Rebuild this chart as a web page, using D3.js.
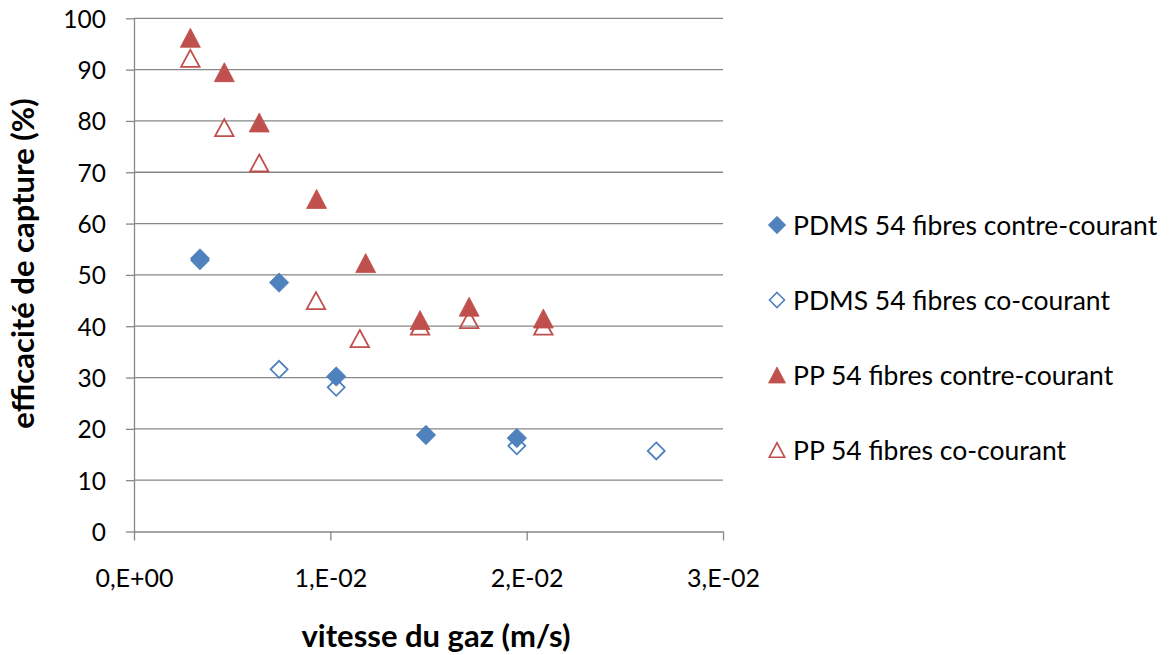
<!DOCTYPE html>
<html><head><meta charset="utf-8">
<script src="https://cdn.jsdelivr.net/npm/d3@7"></script>
<style>body{margin:0;background:#fff}svg{display:block}</style>
</head><body>
<svg id="c" width="1172" height="655"></svg>
<script>
const seriesNames = ["PDMS 54 fibres contre-courant","PDMS 54 fibres co-courant","PP 54 fibres contre-courant","PP 54 fibres co-courant"];
const pdmsContreX = [0.00336,0.00739,0.0103,0.01487,0.0195];
const pdmsContreY = [53.2,48.5,30.2,18.8,18.2];
const pdmsCoX = [0.00336,0.00739,0.0103,0.0195,0.0266];
const pdmsCoY = [52.8,31.6,28.1,16.7,15.7];
const ppContreX = [0.00287,0.0046,0.00638,0.0093,0.0118,0.01457,0.01707,0.02085];
const ppContreY = [96.2,89.5,79.7,64.8,52.3,41.2,43.8,41.5];
const ppCoX = [0.00287,0.0046,0.00638,0.00927,0.0115,0.01457,0.01707,0.02085];
const ppCoY = [92.2,78.7,71.8,45.0,37.6,40.0,41.3,40.0];
const xTicks = [0,0.01,0.02,0.03];
const xTickLabels = ["0,E+00","1,E-02","2,E-02","3,E-02"];
const yTicks = [0,10,20,30,40,50,60,70,80,90,100];

const FONT = "Lato, 'Open Sans', sans-serif";
const BLUE = "#4F81BD", RED = "#C0504D", GRID = "#878787";
const svg = d3.select("#c");
const x = d3.scaleLinear().domain([0,0.03]).range([134,723]);
const y = d3.scaleLinear().domain([0,100]).range([531.5,18.3]);

// gridlines
svg.append("g").selectAll("line").data(yTicks.filter(d=>d>0)).join("line")
  .attr("x1",x(0)).attr("x2",x(0.03)).attr("y1",d=>y(d)).attr("y2",d=>y(d))
  .attr("stroke",GRID).attr("stroke-width",1.3);

// y axis
const yAxis = d3.axisLeft(y).tickValues(yTicks).tickSize(8).tickPadding(20).tickSizeOuter(0);
const gy = svg.append("g").attr("transform",`translate(${x(0)},0)`).call(yAxis);
gy.select(".domain").attr("stroke",GRID).attr("stroke-width",1.3);
gy.selectAll(".tick line").attr("stroke",GRID).attr("stroke-width",1.3);
gy.selectAll(".tick text").attr("font-family",FONT).attr("font-size",24.5).attr("fill","#000").attr("dy","0.36em");

// x axis
const xAxis = d3.axisBottom(x).tickValues(xTicks).tickFormat((d,i)=>xTickLabels[i]).tickSize(9).tickSizeOuter(0);
const gx = svg.append("g").attr("transform",`translate(0,${y(0)})`).call(xAxis);
gx.select(".domain").attr("stroke",GRID).attr("stroke-width",1.3);
gx.selectAll(".tick line").attr("stroke",GRID).attr("stroke-width",1.3);
gx.selectAll(".tick text").attr("font-family",FONT).attr("font-size",25).attr("fill","#000")
  .attr("y",55).attr("dy",0);

// axis titles
svg.append("text").attr("x",436).attr("y",647).attr("text-anchor","middle")
  .attr("font-family",FONT).attr("font-weight","bold").attr("font-size",31).text("vitesse du gaz (m/s)");
svg.append("text").attr("transform",`translate(34,263.5) rotate(-90)`).attr("text-anchor","middle")
  .attr("font-family",FONT).attr("font-weight","bold").attr("font-size",31).text("efficacité de capture (%)");

function diamondPath(r){ return `M0,${-r}L${r},0L0,${r}L${-r},0Z`; }
function triPath(w,h){ return `M0,${-h/2}L${w/2},${h/2}L${-w/2},${h/2}Z`; }

const series = [
  {xs:pdmsContreX, ys:pdmsContreY, shape:"d", filled:true, color:BLUE},
  {xs:pdmsCoX, ys:pdmsCoY, shape:"d", filled:false, color:BLUE},
  {xs:ppContreX, ys:ppContreY, shape:"t", filled:true, color:RED},
  {xs:ppCoX, ys:ppCoY, shape:"t", filled:false, color:RED},
];
series.forEach((s)=>{
  const pts = s.xs.map((v,i)=>[v,s.ys[i]]);
  svg.append("g").selectAll("path").data(pts).join("path")
    .attr("transform",d=>`translate(${x(d[0])},${y(d[1])})`)
    .attr("d", s.shape==="d" ? (s.filled?diamondPath(9.7):diamondPath(8.5)) : (s.filled?triPath(20,19):triPath(18.5,17)))
    .attr("fill",s.filled?s.color:"none").attr("stroke",s.color).attr("stroke-width",s.filled?0.8:1.8);
});

// legend
const legY = [225,300,375,450];
series.forEach((s,i)=>{
  const g = svg.append("g").attr("transform",`translate(777,${legY[i]})`);
  g.append("path")
    .attr("d", s.shape==="d" ? (s.filled?diamondPath(8.7):diamondPath(7.5)) : (s.filled?triPath(17,16):triPath(15.5,14.5)))
    .attr("fill",s.filled?s.color:"none").attr("stroke",s.color).attr("stroke-width",s.filled?0.8:1.6);
  g.append("text").attr("x",16).attr("y",0).attr("dy","0.36em")
    .attr("font-family",FONT).attr("font-size",26.5).attr("fill","#000").text(seriesNames[i]);
});
</script>
</body></html>
